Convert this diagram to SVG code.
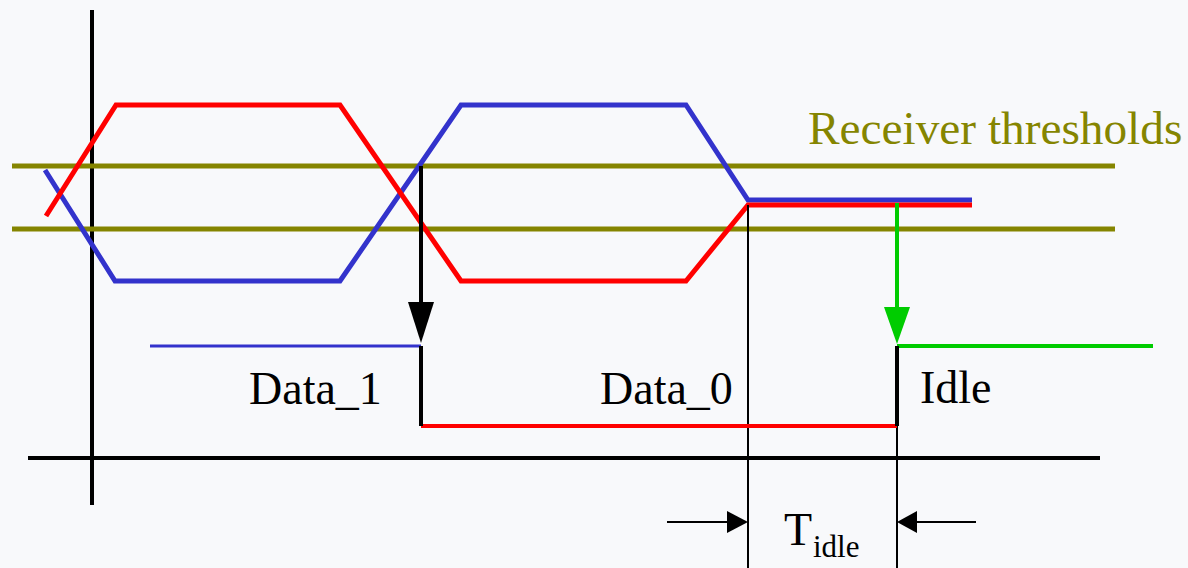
<svg xmlns="http://www.w3.org/2000/svg" width="1188" height="568" viewBox="0 0 1188 568">
  <style>
    .txt { font-family: "Liberation Serif", "Times New Roman", serif; fill: #000000; }
    .big { font-size: 46px; }
    .sub { font-size: 31px; }
    .thr { stroke: #858500; stroke-width: 5; fill: none; }
    .axis { stroke: #000000; stroke-width: 4; fill: none; }
    .thin { stroke: #000000; stroke-width: 2; fill: none; }
    .wave { stroke-width: 5; fill: none; stroke-linejoin: miter; }
    .red { stroke: #ff0000; }
    .blue { stroke: #3333cc; }
  </style>
  <rect x="0" y="0" width="1188" height="568" fill="#f8f9fb"/>

  <g id="axes">
    <line class="axis" x1="92" y1="10" x2="92" y2="505"/>
    <line class="axis" x1="28" y1="458" x2="1100" y2="458"/>
  </g>

  <g id="thresholds">
    <line class="thr" x1="12" y1="166" x2="1115" y2="166"/>
    <line class="thr" x1="12" y1="229" x2="1115" y2="229"/>
    <text class="txt" x="808" y="144" font-size="47.3" style="fill:#858500">Receiver thresholds</text>
  </g>

  <g id="waveforms">
    <polyline class="wave blue" points="45,170 115,281 340,281 461,105 686,105 748,200 972,200"/>
    <polyline class="wave red" points="46,216 116,105 340,105 461,281 686,281 748,205 972,205"/>
  </g>

  <g id="connectors">
    <line class="thin" x1="748" y1="205" x2="748" y2="568"/>
    <line class="thin" x1="897" y1="425" x2="897" y2="568"/>
    <line class="axis" x1="421" y1="166" x2="421" y2="305"/>
    <polygon points="408,302 434,302 421,343" fill="#000000"/>
    <line x1="897" y1="203" x2="897" y2="310" stroke="#00cc00" stroke-width="4"/>
    <polygon points="884,307 910,307 897,344" fill="#00cc00"/>
    <line class="thin" x1="667" y1="522" x2="730" y2="522"/>
    <polygon points="727,511 748,522 727,533" fill="#000000"/>
    <line class="thin" x1="976" y1="522" x2="914" y2="522"/>
    <polygon points="917,511 897,522 917,533" fill="#000000"/>
  </g>

  <g id="output">
    <line x1="150" y1="346" x2="421" y2="346" stroke="#3333cc" stroke-width="3"/>
    <line x1="421" y1="426" x2="897" y2="426" stroke="#ff0000" stroke-width="4"/>
    <line x1="897" y1="346" x2="1153" y2="346" stroke="#00cc00" stroke-width="4"/>
    <line class="axis" x1="421" y1="346" x2="421" y2="426"/>
    <line class="axis" x1="897" y1="346" x2="897" y2="426"/>
  </g>

  <g id="label-data1"><text class="txt big" x="249" y="404">Data_1</text></g>
  <g id="label-data0"><text class="txt big" x="600" y="404">Data_0</text></g>
  <g id="label-idle"><text class="txt big" x="920" y="403">Idle</text></g>
  <g id="label-tidle">
    <text class="txt big" x="784" y="545">T</text>
    <text class="txt sub" x="813" y="557">idle</text>
  </g>
</svg>
